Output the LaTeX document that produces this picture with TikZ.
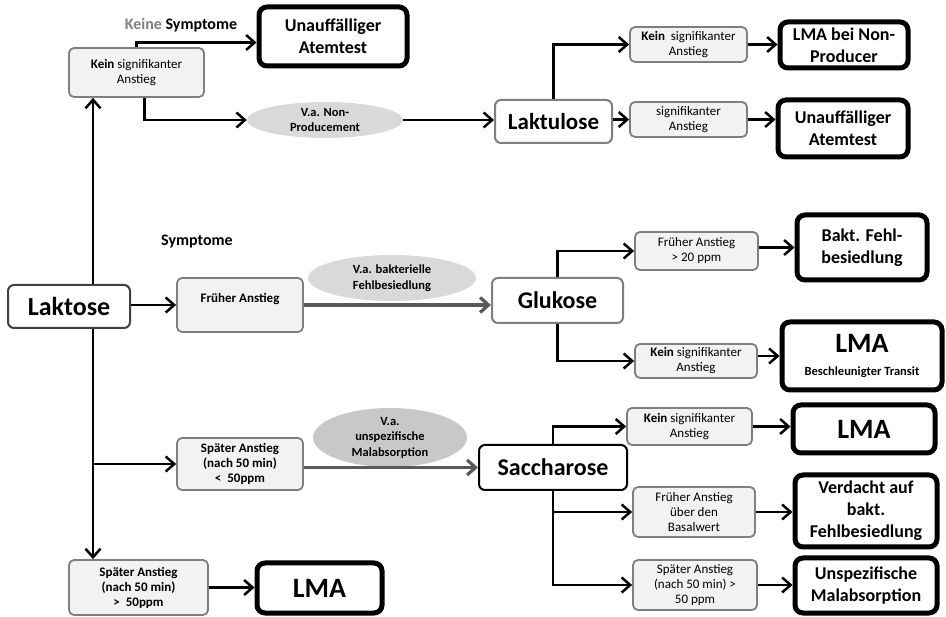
\documentclass[tikz,border=0pt]{standalone}
\usepackage{fontspec}
\setmainfont{Carlito}
\usetikzlibrary{arrows.meta,shapes.geometric}
\definecolor{boxline}{HTML}{7F7F7F}
\definecolor{boxfill}{HTML}{F2F2F2}
\definecolor{vafill}{HTML}{D9D9D9}
\definecolor{vafilldark}{HTML}{C8C8C8}
\definecolor{greyarrow}{HTML}{595959}
\definecolor{greytext}{HTML}{808080}
\tikzset{
  small/.style={draw=boxline, line width=1.8pt, fill=boxfill, rounded corners=5pt,
    align=center, inner sep=0pt, font=\fontsize{13}{15}\selectfont},
  sugar/.style={draw=boxline, line width=2pt, fill=white, rounded corners=6pt,
    align=center, inner sep=0pt, font=\bfseries\fontsize{24}{28}\selectfont},
  result/.style={draw=black, line width=5pt, fill=white, rounded corners=8pt,
    align=center, inner sep=0pt, font=\bfseries\fontsize{18}{22}\selectfont},
  va/.style={ellipse, fill=vafill, align=center, inner sep=0pt,
    font=\bfseries\fontsize{12.5}{15.5}\selectfont},
  lbl/.style={font=\bfseries\fontsize{16}{18}\selectfont},
  arr/.style={line width=2.5pt, -{Straight Barb[length=8.5pt,width=15pt]}},
  garr/.style={draw=greyarrow, line width=3.2pt, -{Straight Barb[length=8.5pt,width=15pt]}},
}
\begin{document}
\begin{tikzpicture}[x=1pt,y=-1pt]
\useasboundingbox (0,0) rectangle (946,617);

% ---- Laktose and its trunk line
\node[sugar, draw=black!75, minimum width=122pt, minimum height=43pt,
  font=\bfseries\fontsize{26}{30}\selectfont] (lak) at (69,306.5) {Laktose};
\coordinate (tr) at (93,306.5);

% ---- upper branch: no significant rise
\node[small, minimum width=135pt, minimum height=49pt] (k1) at (136.5,72.5)
  {\textbf{Kein} signifikanter\\Anstieg};
\node[lbl] (keine) at (181,25) {\textcolor{greytext}{Keine} Symptome};
\node[result, minimum width=148pt, minimum height=59pt] (u1) at (333,36.5)
  {Unauffälliger\\Atemtest};
\node[va, minimum width=156pt, minimum height=36pt] (e1) at (325,120)
  {V.a. Non-\\Producement};
\node[sugar, font=\bfseries\fontsize{23}{28}\selectfont,
  minimum width=117pt, minimum height=43pt] (lakt) at (553.5,121.5) {Laktulose};
\node[small, minimum width=117pt, minimum height=35pt] (k2) at (688.5,44.5)
  {\textbf{Kein}\ \ signifikanter\\Anstieg};
\node[result, minimum width=128pt, minimum height=46pt] (lma1) at (844,45)
  {LMA bei Non-\\Producer};
\node[small, minimum width=117pt, minimum height=35pt] (s2) at (688.5,119.5)
  {signifikanter\\Anstieg};
\node[result, minimum width=130pt, minimum height=57pt] (u2) at (843,128.5)
  {Unauffälliger\\Atemtest};

% ---- middle branch: early rise
\node[lbl] (sym) at (197,242) {Symptome};
\node[small, font=\bfseries\fontsize{13}{15}\selectfont, minimum width=126pt,
  minimum height=54pt, text depth=14pt] (fa) at (240,305) {Früher Anstieg};
\node[va, minimum width=168pt, minimum height=46pt] (e2) at (392,278)
  {V.a. bakterielle\\Fehlbesiedlung};
\node[sugar, minimum width=131pt, minimum height=45pt] (glu) at (557.5,300.5) {Glukose};
\node[small, minimum width=123pt, minimum height=38pt] (fa20) at (696.5,251)
  {Früher Anstieg\\> 20 ppm};
\node[result, minimum width=130pt, minimum height=65pt] (bakt) at (862,247.5)
  {Bakt. Fehl-\\besiedlung};
\node[small, minimum width=122pt, minimum height=34pt] (k3) at (696,361)
  {\textbf{Kein} signifikanter\\Anstieg};
\node[result, minimum width=160pt, minimum height=68pt] (lma2) at (862,356)
  {{\fontsize{28}{30}\selectfont LMA}\\[1pt]{\fontsize{12.5}{14}\selectfont Beschleunigter Transit}};

% ---- lower branch: late rise below 50 ppm
\node[small, font=\bfseries\fontsize{13}{15}\selectfont, minimum width=126pt,
  minimum height=52pt] (sp1) at (240,464)
  {Später Anstieg\\(nach 50 min)\\<\ \ 50ppm};
\node[va, fill=vafilldark, minimum width=154pt, minimum height=59pt] (e3) at (390,437.5)
  {V.a.\\unspezifische\\Malabsorption};
\node[sugar, draw=black, minimum width=148pt, minimum height=45pt] (sac) at (553,467.5)
  {Saccharose};
\node[small, minimum width=125pt, minimum height=37pt] (k4) at (689.5,426.5)
  {\textbf{Kein} signifikanter\\Anstieg};
\node[result, minimum width=142pt, minimum height=48pt,
  font=\bfseries\fontsize{28}{30}\selectfont] (lma3) at (864,429) {LMA};
\node[small, minimum width=122pt, minimum height=50pt] (fb) at (694,512)
  {Früher Anstieg\\über den\\Basalwert};
\node[result, minimum width=142pt, minimum height=72pt] (verd) at (866,511)
  {Verdacht auf\\bakt.\\Fehlbesiedlung};
\node[small, minimum width=124pt, minimum height=50pt] (sp3) at (695,585)
  {Später Anstieg\\(nach 50 min) >\\50 ppm};
\node[result, minimum width=142pt, minimum height=55pt] (unsp) at (866,585.5)
  {Unspezifische\\Malabsorption};

% ---- bottom branch: late rise above 50 ppm
\node[small, font=\bfseries\fontsize{13}{15}\selectfont, minimum width=139pt,
  minimum height=55pt] (sp2) at (138.5,587.5)
  {Später Anstieg\\(nach 50 min)\\>\ \ 50ppm};
\node[result, minimum width=125pt, minimum height=50pt,
  font=\bfseries\fontsize{28}{30}\selectfont] (lma4) at (319.5,588) {LMA};

% ---- connectors
\draw[arr] (tr |- lak.north) -- (tr |- k1.south);
\draw[arr] (tr |- lak.south) -- (tr |- sp2.north);
\draw[arr] (tr |- lak.south) |- (sp1.west);
\draw[arr] (lak.east |- fa.west) -- (fa.west);

\draw[arr] (k1.north) |- ([yshift=-6pt]u1.west);
\draw[arr] ([xshift=8pt]k1.south) |- (e1.west);
\draw[arr] (e1.east) -- (lakt.west |- e1.east);
\draw[arr] (lakt.north) |- (k2.west);
\draw[arr] (lakt.east |- s2.west) -- (s2.west);
\draw[arr] (k2.east) -- (lma1.west |- k2.east);
\draw[arr] (s2.east) -- (u2.west |- s2.east);

\draw[garr] (fa.east) -- (glu.west |- fa.east);
\draw[arr] (glu.north) |- (fa20.west);
\draw[arr] (fa20.east |- bakt.west) -- (bakt.west);
\draw[arr] (glu.south) |- (k3.west);
\draw[arr] (k3.east |- lma2.west) -- (lma2.west);

\draw[garr] (sp1.east |- sac.west) -- (sac.west);
\draw[arr] (sac.north) |- (k4.west);
\draw[arr] (k4.east) -- (lma3.west |- k4.east);
\draw[arr] (sac.south) |- (fb.west);
\draw[arr] (sac.south) |- (sp3.west);
\draw[arr] (fb.east) -- (verd.west |- fb.east);
\draw[arr] (sp3.east) -- (unsp.west |- sp3.east);

\draw[arr] (sp2.east) -- (lma4.west |- sp2.east);
\end{tikzpicture}
\end{document}
